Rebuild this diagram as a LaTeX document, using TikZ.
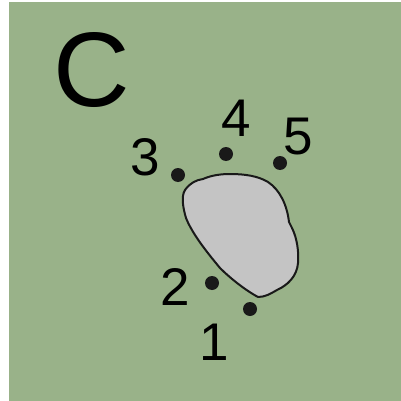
\documentclass[tikz,border=0pt]{standalone}
\usepackage{fontspec}
\setmainfont{Liberation Sans}
\usepackage{xcolor}
\usetikzlibrary{positioning}
\definecolor{fieldgreen}{RGB}{153,178,137}
\definecolor{stonegrey}{RGB}{196,196,196}

\begin{document}
\begin{tikzpicture}[x=1pt, y=-1pt, line cap=round, line join=round,
		numlabel/.style={inner sep=0pt, font=\fontsize{53}{53}\selectfont},
		spot/.style={fill=black!90, circle, inner sep=0pt, minimum size=14pt}]
		\useasboundingbox (0,0) rectangle (401,401);
		\fill[fieldgreen] (9,2) rectangle (401,401);
		
		\node[inner sep=0pt, font=\fontsize{106}{106}\selectfont] (letter) at (91.5,70) {C};
		
		% stone
		\draw[line width=2pt, fill=stonegrey, draw=black!90]
			(185,190) .. controls (190,183) and (196,180) .. (203,179)
			.. controls (212,175) and (222,174) .. (230,174)
			.. controls (245,174) and (258,176) .. (268,182)
			.. controls (280,190) and (287,205) .. (289,222)
			-- (292,228)
			.. controls (297,238) and (299,252) .. (298,263)
			.. controls (297,276) and (288,285) .. (277,290)
			.. controls (270,294) and (265,297) .. (258,297)
			.. controls (245,290) and (230,278) .. (220,268)
			.. controls (205,250) and (192,233) .. (186,218)
			.. controls (183,208) and (181,196) .. (185,190) -- cycle;
		
		% sampling points
		\node[spot] (p1) at (250,309) {};
		\node[spot] (p2) at (212,283) {};
		\node[spot] (p3) at (178,175) {};
		\node[spot] (p4) at (226,154) {};
		\node[spot] (p5) at (280,163) {};
		
		\node[numlabel] (n1) at (214,342) {1};
		\node[numlabel] (n2) at (175,287) {2};
		\node[numlabel] (n3) at (145,157) {3};
		\node[numlabel] (n4) at (236,118) {4};
		\node[numlabel] (n5) at (298,137) {5};
	\end{tikzpicture}
\end{document}
